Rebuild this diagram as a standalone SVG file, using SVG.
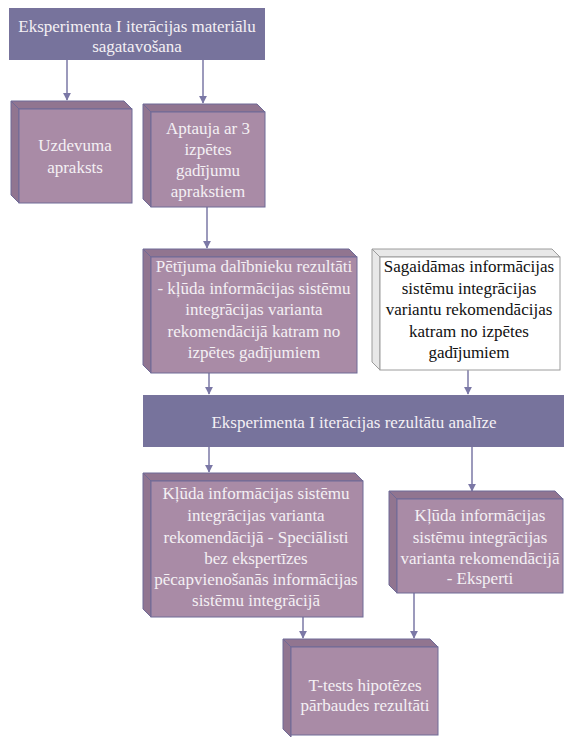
<svg xmlns="http://www.w3.org/2000/svg" width="564" height="738" viewBox="0 0 564 738" font-family="Liberation Serif, serif">
  <style>
    .banner { fill: #77739c; }
    .face { fill: #a98ba6; stroke: #6f6a97; stroke-width: 1; }
    .bevel { fill: #917590; stroke: #6f6a97; stroke-width: 1; }
    .wface { fill: #ffffff; stroke: #9c9c9c; stroke-width: 1; }
    .wbevel { fill: #e8e8e8; stroke: #9c9c9c; stroke-width: 1; }
    text { font-size: 17px; text-anchor: middle; }
    .lt { fill: #f4f0f4; }
    .dk { fill: #111111; }
    .conn { stroke: #7b78a6; stroke-width: 1.5; fill: none; marker-end: url(#ah); }
  </style>
  <defs>
    <marker id="ah" viewBox="0 0 10 10" refX="9" refY="5" markerWidth="5.5" markerHeight="5.5" orient="auto" markerUnits="strokeWidth">
      <path d="M0,0 L10,5 L0,10 z" fill="#7b78a6"/>
    </marker>
  </defs>

  <g id="connectors">
    <line class="conn" x1="67" y1="60" x2="67" y2="100"/>
    <line class="conn" x1="203" y1="60" x2="203" y2="103"/>
    <line class="conn" x1="207" y1="207" x2="207" y2="248"/>
    <line class="conn" x1="209" y1="373" x2="209" y2="394"/>
    <line class="conn" x1="468" y1="370" x2="468" y2="394"/>
    <line class="conn" x1="209" y1="447" x2="209" y2="472"/>
    <line class="conn" x1="472" y1="447" x2="472" y2="491"/>
    <line class="conn" x1="303" y1="617" x2="303" y2="638"/>
    <line class="conn" x1="414" y1="593" x2="414" y2="638"/>
  </g>

  <g id="materials">
    <rect class="banner" x="9" y="8" width="256" height="52"/>
    <text class="lt" x="137" y="32">Eksperimenta I iterācijas materiālu</text>
    <text class="lt" x="137" y="52">sagatavošana</text>
  </g>

  <g id="task">
    <polygon class="bevel" points="11,101 124,101 132,109 19,109"/>
    <polygon class="bevel" points="11,101 19,109 19,203 11,195"/>
    <rect class="face" x="19" y="109" width="113" height="94"/>
    <text class="lt" x="75" y="151">Uzdevuma</text>
    <text class="lt" x="75" y="173">apraksts</text>
  </g>

  <g id="survey">
    <polygon class="bevel" points="143,104 257,104 265,112 151,112"/>
    <polygon class="bevel" points="143,104 151,112 151,207 143,199"/>
    <rect class="face" x="151" y="112" width="114" height="95"/>
    <text class="lt" x="208" y="134">Aptauja ar 3</text>
    <text class="lt" x="208" y="155">izpētes</text>
    <text class="lt" x="208" y="176">gadījumu</text>
    <text class="lt" x="208" y="197">aprakstiem</text>
  </g>

  <g id="participants">
    <polygon class="bevel" points="143,249 349,249 357,257 151,257"/>
    <polygon class="bevel" points="143,249 151,257 151,373 143,365"/>
    <rect class="face" x="151" y="257" width="206" height="116"/>
    <text class="lt" x="254" y="272">Pētījuma dalībnieku rezultāti</text>
    <text class="lt" x="254" y="294">- kļūda informācijas sistēmu</text>
    <text class="lt" x="254" y="315">integrācijas varianta</text>
    <text class="lt" x="254" y="337">rekomendācijā katram no</text>
    <text class="lt" x="254" y="358">izpētes gadījumiem</text>
  </g>

  <g id="expected">
    <polygon class="wbevel" points="372,249 552,249 560,257 380,257"/>
    <polygon class="wbevel" points="372,249 380,257 380,370 372,362"/>
    <rect class="wface" x="380" y="257" width="180" height="113"/>
    <text class="dk" x="469" y="272">Sagaidāmas informācijas</text>
    <text class="dk" x="469" y="294">sistēmu integrācijas</text>
    <text class="dk" x="469" y="315">variantu rekomendācijas</text>
    <text class="dk" x="469" y="337">katram no izpētes</text>
    <text class="dk" x="469" y="358">gadījumiem</text>
  </g>

  <g id="analysis">
    <rect class="banner" x="143" y="395" width="421" height="52"/>
    <text class="lt" x="354" y="428">Eksperimenta I iterācijas rezultātu analīze</text>
  </g>

  <g id="specialists">
    <polygon class="bevel" points="143,473 355,473 363,481 151,481"/>
    <polygon class="bevel" points="143,473 151,481 151,617 143,609"/>
    <rect class="face" x="151" y="481" width="212" height="136"/>
    <text class="lt" x="256" y="499">Kļūda informācijas sistēmu</text>
    <text class="lt" x="256" y="521">integrācijas varianta</text>
    <text class="lt" x="256" y="543">rekomendācijā - Speciālisti</text>
    <text class="lt" x="256" y="564">bez ekspertīzes</text>
    <text class="lt" x="256" y="585">pēcapvienošanās informācijas</text>
    <text class="lt" x="256" y="606">sistēmu integrācijā</text>
  </g>

  <g id="experts">
    <polygon class="bevel" points="389,491 555,491 563,499 397,499"/>
    <polygon class="bevel" points="389,491 397,499 397,593 389,585"/>
    <rect class="face" x="397" y="499" width="166" height="94"/>
    <text class="lt" x="480" y="521">Kļūda informācijas</text>
    <text class="lt" x="480" y="543">sistēmu integrācijas</text>
    <text class="lt" x="480" y="564">varianta rekomendācijā</text>
    <text class="lt" x="480" y="584">- Eksperti</text>
  </g>

  <g id="ttest">
    <polygon class="bevel" points="283,639 430,639 438,647 291,647"/>
    <polygon class="bevel" points="283,639 291,647 291,737 283,729"/>
    <rect class="face" x="291" y="647" width="147" height="88"/>
    <text class="lt" x="365" y="691">T-tests hipotēzes</text>
    <text class="lt" x="365" y="711">pārbaudes rezultāti</text>
  </g>
</svg>
